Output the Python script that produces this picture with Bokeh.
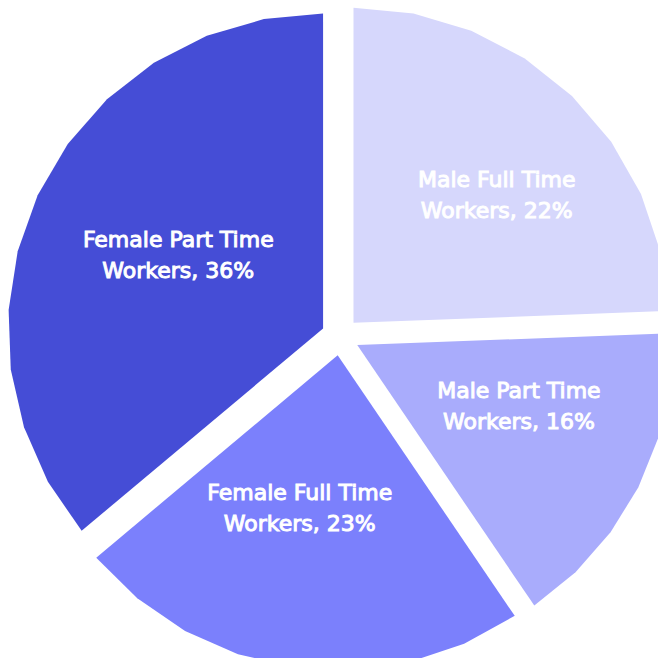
import math
import numpy as np
from bokeh.plotting import figure
from bokeh.models import Range1d, ColumnDataSource
from bokeh.core.properties import value
from bokeh.embed import file_html
from bokeh.resources import INLINE

# ---- data ----
categories = ["Male Full Time Workers", "Male Part Time Workers",
              "Female Full Time Workers", "Female Part Time Workers"]
line1 = ["Male Full Time", "Male Part Time", "Female Full Time", "Female Part Time"]
line2 = ["Workers, 22%", "Workers, 16%", "Workers, 23%", "Workers, 36%"]
slice_share = [24.4, 16.1, 23.4, 36.1]   # share of the circle
colors = ["#d6d7fc", "#a9acfc", "#7b80fc", "#454dd6"]

# ---- layout ----
PX = 315.0                 # pixels per unit radius
W = H = 658
cx_pix, cy_pix = 339.8, 336.0
explode = 19.0 / PX
label_r = [0.61, 0.548, 0.50, 0.516]
label_turn = [-4.3, 6.3, -6.0, -2.0]

x0 = (0 - cx_pix) / PX
x1 = (W - cx_pix) / PX
y1 = (cy_pix - 0) / PX
y0 = (cy_pix - H) / PX

p = figure(width=W, height=H, x_range=Range1d(x0, x1), y_range=Range1d(y0, y1),
           output_backend="svg", toolbar_location=None, min_border=0)
p.axis.visible = False
p.grid.visible = False
p.outline_line_color = None
p.background_fill_color = "white"
p.border_fill_color = "white"

total = sum(slice_share)
cum = 0.0
xs, ys, lx, ly = [], [], [], []
for i, v in enumerate(slice_share):
    a0 = 90.0 - cum / total * 360.0
    cum += v
    a1 = 90.0 - cum / total * 360.0
    mid = (a0 + a1) / 2.0
    ox = explode * math.cos(math.radians(mid))
    oy = explode * math.sin(math.radians(mid))
    n = int(math.ceil((a0 - a1) / 11.25))
    angs = np.radians(np.linspace(a0, a1, n + 1))
    xs.append([ox] + list(ox + np.cos(angs)))
    ys.append([oy] + list(oy + np.sin(angs)))
    la = math.radians(mid + label_turn[i])
    lx.append(ox + label_r[i] * math.cos(la))
    ly.append(oy + label_r[i] * math.sin(la))

src = ColumnDataSource(dict(xs=xs, ys=ys, color=colors, cat=categories))
p.patches("xs", "ys", source=src, fill_color="color", line_color=None)

tsrc = ColumnDataSource(dict(x=lx, y=ly, t1=line1, t2=line2))
for col, off in (("t1", -15.5), ("t2", 15.5)):
    p.text("x", "y", text=col, source=tsrc, y_offset=off,
           text_align="center", text_baseline="middle",
           text_color="white", text_font=value("DejaVu Sans"),
           text_font_size="22px", text_outline_color="white")

open("out.html", "w").write(file_html(p, INLINE))
